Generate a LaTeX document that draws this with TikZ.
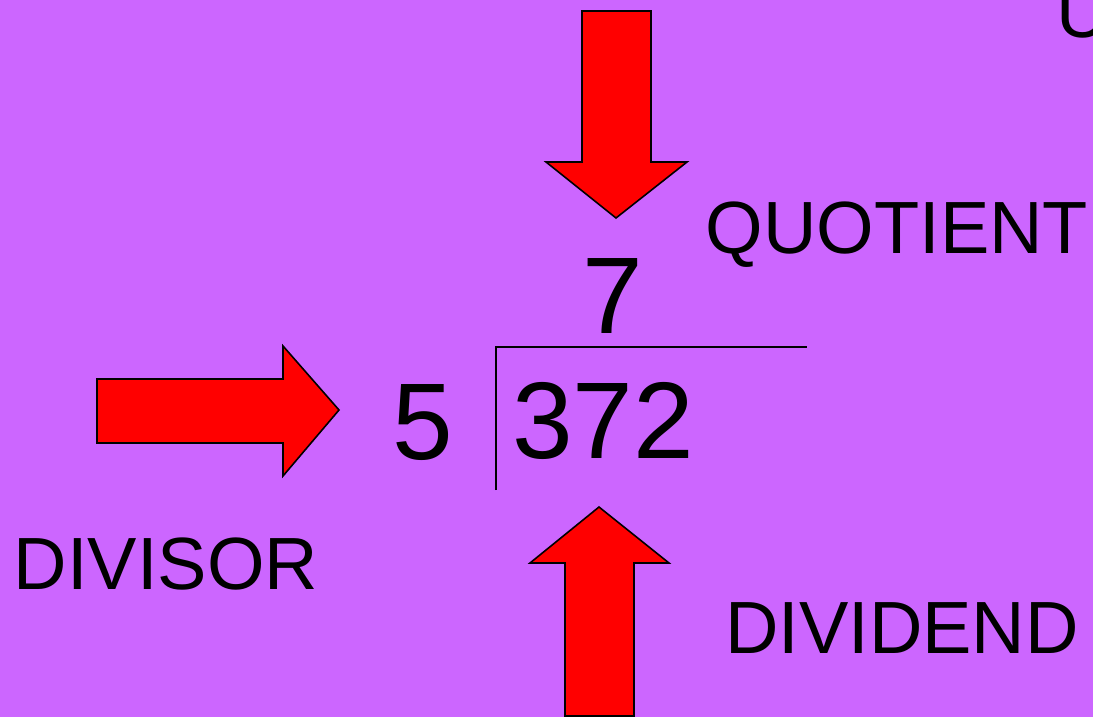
\documentclass[tikz,border=0pt]{standalone}
\usepackage{fontspec}
\setmainfont{Liberation Sans}
\definecolor{bgpurple}{HTML}{CC66FF}
\definecolor{arrowred}{HTML}{FF0000}
\begin{document}
\begin{tikzpicture}[x=1pt,y=-1pt,
  blockarrow/.style={fill=arrowred,draw=black,line width=1.6pt,line join=miter},
  label/.style={inner sep=0pt,anchor=base,font=\fontsize{74}{80}\selectfont},
  digits/.style={inner sep=0pt,anchor=base,font=\fontsize{109}{115}\selectfont},
  rule/.style={draw=black,line width=1.8pt}]
\useasboundingbox (0,0) rectangle (1093,717);
\clip (0,0) rectangle (1093,717);
\fill[bgpurple] (0,0) rectangle (1093,717);
% arrows
\draw[blockarrow] (582,11) -- (651,11) -- (651,162) -- (687,162) -- (616,218) -- (546,162) -- (582,162) -- cycle;
\draw[blockarrow] (97,379) -- (283,379) -- (283,346) -- (339,410) -- (283,476) -- (283,443) -- (97,443) -- cycle;
\draw[blockarrow] (565,716) -- (565,563) -- (530,563) -- (599,507) -- (669,563) -- (634,563) -- (634,716) -- cycle;
% division bracket
\coordinate (bl) at (496,490);
\coordinate (tl) at (496,347);
\coordinate (tr) at (807,347);
\draw[rule] (bl) -- (tl) -- (tr);
% numbers
\node[digits] (q) at (613,333) {7};
\node[digits] (dd) at (603,458) {372};
\node[digits] (dv) at (423,459) {5};
% labels
\node[label] (ql) at (897,253) {QUOTIENT};
\node[label] (dvl) at (166,589) {DIVISOR};
\node[label] (ddl) at (902,653) {DIVIDEND};
\node[label,anchor=base west] (u) at (1056,38) {U};
\end{tikzpicture}
\end{document}
